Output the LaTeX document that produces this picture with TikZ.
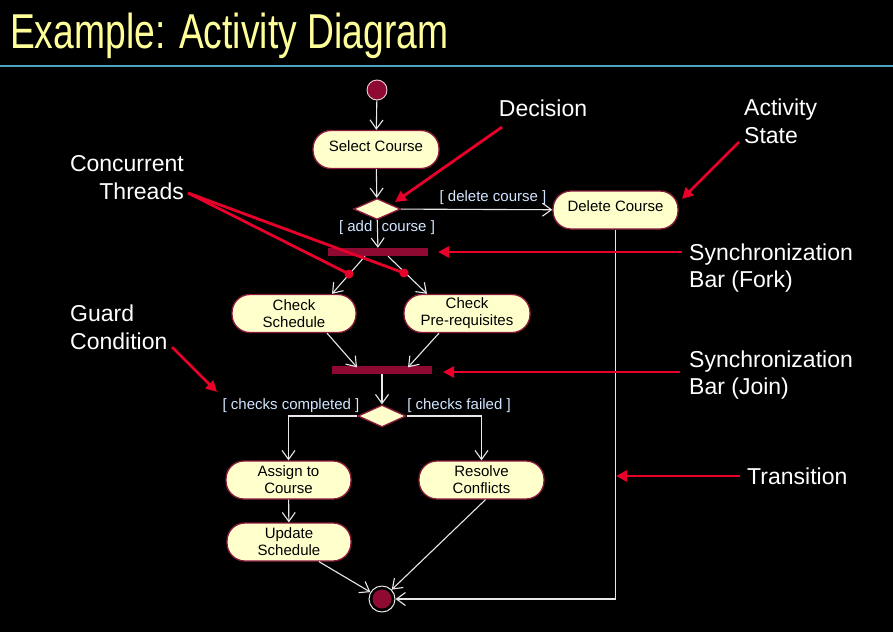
\documentclass[tikz,border=0pt]{standalone}
\usepackage{fontspec}
\setmainfont{Liberation Sans}
\usetikzlibrary{arrows.meta,shapes.geometric}
\definecolor{titlecol}{HTML}{FFFF99}
\definecolor{rulecol}{HTML}{4BA3C7}
\definecolor{actfill}{HTML}{FFFFCC}
\definecolor{actborder}{HTML}{8C1A3C}
\definecolor{barcol}{HTML}{8E0A32}
\definecolor{annred}{HTML}{E8002A}
\definecolor{guardcol}{HTML}{D2E6FF}
\definecolor{flowcol}{HTML}{E8E8E8}
\definecolor{startborder}{HTML}{F0D0D8}
\begin{document}
\begin{tikzpicture}[x=1pt,y=-1pt,
  act/.style={draw=actborder, line width=1.3pt, fill=actfill, rounded corners=18pt,
    minimum height=38pt, inner sep=0pt, align=center,
    font=\fontsize{15}{17}\selectfont, text=black},
  oneline/.style={text height=10pt, text depth=7pt},
  decis/.style={diamond, draw=actborder, line width=1.3pt, fill=actfill,
    minimum width=47pt, minimum height=21pt, inner sep=0pt},
  syncbar/.style={rectangle, fill=barcol, minimum width=100pt, minimum height=8pt, inner sep=0pt},
  flow/.style={draw=flowcol, line width=1.1pt, -{Straight Barb[length=9pt,width=13pt]}},
  guard/.style={text=guardcol, font=\fontsize{15}{17}\selectfont, inner sep=0pt},
  anntext/.style={text=white, font=\fontsize{23}{27.5}\selectfont, inner sep=0pt},
  ann/.style={draw=annred, line width=2.8pt, -{Triangle[length=11pt,width=11pt]}},
  annline/.style={draw=annred, line width=2.8pt},
]
\fill[black] (0,0) rectangle (893,632);
\useasboundingbox (0,0) rectangle (893,632);

% title
\node[anchor=base west, xscale=0.76, inner sep=0pt, text=titlecol,
  font=\fontsize{49}{55}\selectfont] (title) at (10,48) {Example: Activity Diagram};
\draw[rulecol, line width=1.8pt] (0,66) -- (893,66);

% nodes
\node[circle, fill=barcol, draw=startborder, line width=0.9pt, minimum size=20pt, inner sep=0pt] (start) at (377,90) {};
\node[act, oneline, minimum width=126pt] (sel) at (376,149.5) {Select Course};
\node[decis] (dec1) at (377,209) {};
\node[act, oneline, minimum width=125pt] (del) at (615.5,210) {Delete Course};
\node[syncbar] (fork) at (378,252) {};
\node[act, minimum width=124pt] (cs) at (294,313.5) {Check\\Schedule};
\node[act, minimum width=126pt] (cp) at (467,313.5) {Check\\Pre-requisites};
\node[syncbar] (join) at (382,369.5) {};
\node[decis, minimum width=48pt, minimum height=22pt] (dec2) at (382,416) {};
\node[act, minimum width=125pt] (assign) at (288.5,480) {Assign to\\Course};
\node[act, minimum width=125pt] (resolve) at (481.5,480) {Resolve\\Conflicts};
\node[act, minimum width=124pt] (update) at (289,542) {Update\\Schedule};
\node[circle, draw=flowcol, line width=1pt, minimum size=26pt, inner sep=0pt] (end) at (382,599) {};
\fill[barcol] (end.center) circle (9.5);

% guards
\node[guard] (gdel) at (493,197.5) {[ delete course ]};
\node[guard] (gadd) at (387,227.5) {[ add\hspace{5pt} course ]};
\node[guard] (gcc) at (291,405.5) {[ checks completed ]};
\node[guard] (gcf) at (459,405.5) {[ checks failed ]};

% flows
\draw[flow] (start) -- (sel);
\draw[flow] (sel) -- (dec1);
\draw[flow] (dec1) -- (del);
\draw[flow] (dec1) -- (fork);
\draw[flow] ([xshift=-13pt]fork.south) -- ([xshift=38pt]cs.north);
\draw[flow] ([xshift=10pt]fork.south) -- ([xshift=-40pt]cp.north);
\draw[flow] ([xshift=33pt]cs.south) -- ([xshift=-25pt,yshift=-2pt]join.north);
\draw[flow] ([xshift=-28pt]cp.south) -- ([xshift=26pt,yshift=-2pt]join.north);
\draw[flow] (join) -- (dec2);
\draw[flow] (dec2.west) -| (assign.north);
\draw[flow] (dec2.east) -| (resolve.north);
\draw[flow] (assign) -- (update);
\draw[flow] ([xshift=30pt]update.south) -- (end);
\draw[flow] ([xshift=4pt]resolve.south) -- (end);
\draw[flow] (del.south) |- (end.east);

% annotations
\node[anntext] (tdec) at (543,108) {Decision};
\node[anntext, align=left, anchor=west] (tact) at (744,121.5) {Activity\\State};
\node[anntext, align=right, anchor=east] (tconc) at (184,177.5) {Concurrent\\Threads};
\node[anntext, align=left, anchor=west] (tfork) at (689,268) {Synchronization\\Bar (Fork)};
\node[anntext, align=left, anchor=west] (tjoin) at (689,375) {Synchronization\\Bar (Join)};
\node[anntext, align=left, anchor=west] (tguard) at (70,327.5) {Guard\\Condition};
\node[anntext, anchor=west] (ttrans) at (747,476) {Transition};

\coordinate (decA) at (502,127);
\coordinate (decB) at (395,202);
\coordinate (actA) at (739,142);
\coordinate (actB) at (682,199);
\coordinate (concA) at (188,193);
\coordinate (dotL) at (349,274);
\coordinate (dotR) at (404,273);
\coordinate (forkA) at (682,252);
\coordinate (forkB) at (438,252);
\coordinate (joinA) at (680,372);
\coordinate (joinB) at (443,372);
\coordinate (guardA) at (172,347);
\coordinate (guardB) at (217,392);
\coordinate (transA) at (740,476);
\coordinate (transB) at (616,476);

\draw[ann] (decA) -- (decB);
\draw[ann] (actA) -- (actB);
\draw[annline] (concA) -- (dotL);
\draw[annline] (concA) -- (dotR);
\fill[annred] (dotL) circle (4.5);
\fill[annred] (dotR) circle (4.5);
\draw[ann] (forkA) -- (forkB);
\draw[ann] (joinA) -- (joinB);
\draw[ann] (guardA) -- (guardB);
\draw[ann] (transA) -- (transB);
\end{tikzpicture}
\end{document}
